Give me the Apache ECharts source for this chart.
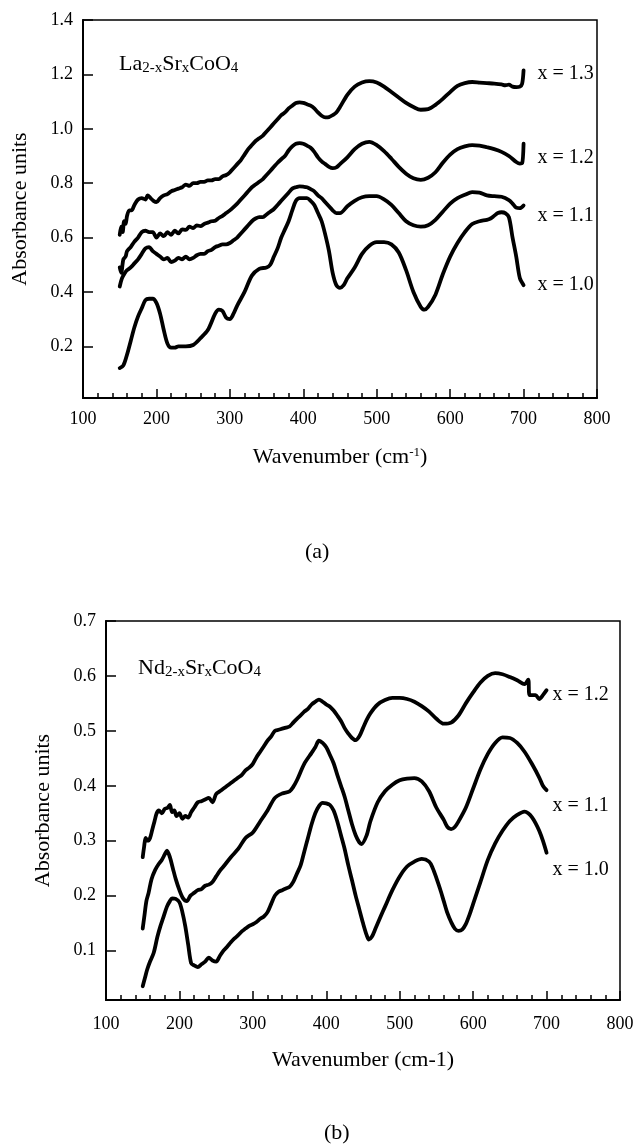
<!DOCTYPE html>
<html><head><meta charset="utf-8">
<script src="https://cdn.jsdelivr.net/npm/echarts@6/dist/echarts.min.js"></script>
<style>html,body{margin:0;padding:0;background:#fff}#c{width:638px;height:1144px}</style>
</head><body><div id="c"></div>
<script>
// ---------- Panel (a): La(2-x)Sr(x)CoO4 ----------
const laWnA10 = [150,155,160,165,170,175,180,185,190,195,200,205,210,215,220,225,230,240,250,260,270,280,285,290,295,300,305,310,320,330,340,350,355,360,365,370,375,380,385,390,395,400,405,410,415,420,425,430,435,440,445,450,455,460,470,480,490,500,510,520,530,540,550,560,565,570,580,590,600,610,620,630,640,650,655,660,665,670,675,680,685,690,695,700];
const laAbs10 = [0.12,0.13,0.17,0.22,0.27,0.31,0.34,0.37,0.375,0.375,0.36,0.32,0.26,0.21,0.195,0.195,0.2,0.2,0.205,0.23,0.26,0.32,0.335,0.33,0.305,0.3,0.32,0.35,0.4,0.46,0.485,0.49,0.5,0.53,0.56,0.6,0.63,0.66,0.7,0.735,0.745,0.745,0.745,0.735,0.72,0.69,0.66,0.61,0.55,0.47,0.425,0.415,0.425,0.45,0.49,0.54,0.57,0.583,0.583,0.575,0.545,0.48,0.4,0.345,0.335,0.345,0.39,0.465,0.53,0.58,0.62,0.65,0.66,0.665,0.67,0.68,0.69,0.693,0.69,0.675,0.6,0.53,0.45,0.425];

const laWnA11 = [150,153,157,160,165,170,175,180,185,190,195,200,205,210,215,220,225,230,235,240,245,250,255,260,265,270,275,280,285,290,295,300,305,310,315,320,325,330,335,340,345,350,355,360,365,370,375,380,385,390,395,400,405,410,415,420,425,430,435,440,445,450,460,470,480,490,500,510,520,530,540,550,560,570,580,590,600,610,620,630,640,650,660,670,680,685,690,695,700];
const laAbs11 = [0.42,0.45,0.47,0.48,0.49,0.505,0.52,0.54,0.56,0.565,0.55,0.54,0.53,0.52,0.525,0.51,0.515,0.525,0.52,0.53,0.52,0.525,0.535,0.54,0.54,0.55,0.555,0.565,0.57,0.575,0.575,0.58,0.59,0.6,0.615,0.63,0.645,0.66,0.67,0.675,0.675,0.685,0.695,0.705,0.72,0.735,0.75,0.765,0.78,0.785,0.788,0.787,0.785,0.778,0.77,0.755,0.745,0.73,0.715,0.7,0.69,0.69,0.715,0.735,0.748,0.752,0.752,0.74,0.72,0.69,0.66,0.645,0.64,0.645,0.665,0.695,0.725,0.745,0.757,0.767,0.765,0.755,0.752,0.75,0.738,0.725,0.71,0.708,0.718];

const laWnA12 = [150,152,155,158,160,165,170,175,180,185,190,195,200,205,210,215,220,225,230,235,240,245,250,255,260,265,270,275,280,285,290,295,300,305,310,315,320,325,330,335,340,345,350,355,360,365,370,375,380,385,390,395,400,405,410,415,420,425,430,435,440,445,450,460,470,480,490,500,510,520,530,540,550,560,570,580,590,600,610,620,630,640,650,660,670,680,690,695,698,700];
const laAbs12 = [0.49,0.47,0.52,0.53,0.55,0.565,0.585,0.6,0.62,0.625,0.62,0.62,0.6,0.615,0.605,0.62,0.61,0.625,0.615,0.63,0.628,0.64,0.635,0.645,0.642,0.65,0.655,0.66,0.662,0.672,0.68,0.69,0.7,0.712,0.725,0.74,0.755,0.77,0.785,0.795,0.805,0.815,0.83,0.845,0.86,0.875,0.888,0.9,0.92,0.935,0.945,0.947,0.945,0.938,0.93,0.915,0.895,0.88,0.87,0.86,0.855,0.858,0.87,0.895,0.925,0.945,0.952,0.94,0.918,0.89,0.86,0.835,0.818,0.812,0.82,0.84,0.875,0.905,0.925,0.935,0.94,0.938,0.932,0.925,0.915,0.9,0.878,0.872,0.873,0.945];

const laWnA13 = [150,152,154,156,158,160,163,166,170,175,180,185,188,192,196,200,205,210,215,220,225,230,235,240,245,250,255,260,265,270,275,280,285,290,295,300,305,310,315,320,325,330,335,340,345,350,355,360,365,370,375,380,385,390,395,400,405,410,415,420,425,430,435,440,445,450,460,470,480,490,500,510,520,530,540,550,560,570,580,590,600,610,620,630,640,650,660,670,675,680,685,690,695,698,700];
const laAbs13 = [0.61,0.64,0.62,0.66,0.65,0.68,0.7,0.7,0.72,0.74,0.745,0.74,0.755,0.745,0.735,0.73,0.745,0.755,0.76,0.77,0.775,0.78,0.785,0.795,0.79,0.8,0.8,0.805,0.805,0.81,0.81,0.815,0.815,0.825,0.83,0.84,0.855,0.87,0.885,0.905,0.925,0.94,0.955,0.965,0.975,0.99,1.005,1.02,1.035,1.05,1.06,1.075,1.085,1.095,1.097,1.095,1.09,1.085,1.075,1.06,1.048,1.042,1.043,1.05,1.06,1.08,1.125,1.155,1.17,1.175,1.17,1.155,1.135,1.115,1.095,1.08,1.07,1.072,1.088,1.11,1.135,1.158,1.168,1.172,1.17,1.168,1.166,1.163,1.16,1.162,1.155,1.153,1.155,1.165,1.215];

// ---------- Panel (b): Nd(2-x)Sr(x)CoO4 ----------
const ndWnB10 = [150,153,156,160,165,170,174,178,183,187,190,195,200,204,208,212,216,220,225,230,235,240,245,250,255,260,265,270,275,280,285,290,295,300,305,310,315,320,325,330,335,340,345,350,355,360,365,370,375,380,385,390,395,400,405,410,415,420,425,430,435,440,445,450,455,458,462,467,474,480,490,500,510,520,530,540,545,550,555,560,565,570,575,580,585,590,595,600,610,620,630,640,650,660,670,675,680,685,690,695,700];
const ndAbs10 = [0.035,0.05,0.065,0.08,0.096,0.125,0.144,0.16,0.18,0.19,0.195,0.194,0.188,0.17,0.144,0.11,0.077,0.073,0.07,0.075,0.08,0.087,0.082,0.08,0.09,0.1,0.107,0.115,0.122,0.128,0.135,0.14,0.145,0.148,0.152,0.158,0.162,0.17,0.185,0.2,0.207,0.21,0.213,0.216,0.225,0.24,0.255,0.28,0.305,0.33,0.35,0.363,0.369,0.368,0.365,0.355,0.335,0.31,0.285,0.255,0.228,0.2,0.175,0.15,0.128,0.12,0.125,0.14,0.162,0.18,0.21,0.235,0.253,0.262,0.267,0.262,0.25,0.232,0.212,0.19,0.168,0.152,0.14,0.136,0.138,0.148,0.165,0.185,0.225,0.265,0.295,0.318,0.336,0.347,0.353,0.35,0.343,0.332,0.318,0.3,0.278];

const ndWnB11 = [150,152,155,158,162,167,172,176,180,183,187,191,195,200,205,210,215,220,225,230,235,240,245,250,255,260,270,280,290,300,310,320,330,340,350,355,360,370,380,385,390,395,400,405,410,415,420,425,430,435,440,445,448,455,460,470,480,490,500,510,520,530,540,550,560,565,570,575,580,590,600,610,620,630,640,650,660,670,680,690,695,700];
const ndAbs11 = [0.14,0.16,0.19,0.205,0.23,0.247,0.258,0.265,0.275,0.282,0.27,0.25,0.23,0.21,0.195,0.19,0.2,0.205,0.21,0.212,0.218,0.22,0.225,0.235,0.245,0.253,0.27,0.285,0.305,0.315,0.335,0.355,0.378,0.386,0.39,0.398,0.41,0.44,0.46,0.47,0.482,0.478,0.47,0.456,0.441,0.42,0.4,0.38,0.355,0.33,0.31,0.297,0.294,0.31,0.335,0.37,0.39,0.402,0.41,0.413,0.414,0.408,0.39,0.36,0.338,0.325,0.321,0.325,0.335,0.36,0.395,0.43,0.458,0.478,0.488,0.487,0.478,0.462,0.44,0.415,0.4,0.392];

const ndWnB12 = [150,152,154,157,160,163,166,169,172,176,180,184,187,190,193,196,200,204,208,212,216,220,225,230,235,240,245,250,255,260,265,270,275,280,285,290,295,300,305,310,315,320,325,330,335,340,345,350,355,360,365,370,375,380,385,390,395,400,405,410,415,420,425,430,435,440,445,450,455,460,470,480,490,500,510,520,530,540,550,560,570,580,590,600,610,620,630,640,650,660,670,675,677,685,690,695,700];
const ndAbs12 = [0.27,0.29,0.305,0.3,0.305,0.32,0.335,0.35,0.355,0.35,0.358,0.36,0.365,0.352,0.355,0.345,0.35,0.34,0.345,0.342,0.352,0.36,0.37,0.372,0.375,0.378,0.37,0.385,0.39,0.395,0.4,0.405,0.41,0.415,0.42,0.428,0.433,0.44,0.452,0.462,0.472,0.482,0.49,0.5,0.502,0.504,0.506,0.508,0.515,0.522,0.528,0.535,0.54,0.548,0.553,0.557,0.553,0.548,0.544,0.537,0.528,0.518,0.505,0.495,0.487,0.483,0.49,0.505,0.52,0.532,0.548,0.556,0.56,0.56,0.558,0.553,0.545,0.535,0.522,0.513,0.515,0.528,0.55,0.57,0.588,0.6,0.605,0.603,0.598,0.592,0.585,0.593,0.565,0.565,0.558,0.565,0.574];

const curveNamesA = ['x = 1.0','x = 1.1','x = 1.2','x = 1.3'];
const curveNamesB = ['x = 1.0','x = 1.1','x = 1.2'];
const wnTicks = [100,200,300,400,500,600,700,800];

function pairs(xs, ys){ return xs.map((x,i)=>[x, ys[i]]); }

const FONT = "'Liberation Serif', 'Times New Roman', serif";
const BLACK = '#000';

function mkSeries(name, xs, ys, idx, off){
  return {
    name: name, type:'line', xAxisIndex: idx, yAxisIndex: idx,
    data: pairs(xs, ys), showSymbol:false, smooth:0.3, silent:true,
    lineStyle:{color:BLACK, width:3.8, cap:'round', join:'round'},
    endLabel:{show:true, formatter: name, distance:0, offset: off,
      color:BLACK, fontSize:20, fontFamily:FONT}
  };
}

function mkX(idx, gap, withSup, margin){
  return {
    type:'value', gridIndex: idx, min: wnTicks[0], max: wnTicks[wnTicks.length-1], interval:100,
    name: withSup ? 'Wavenumber (cm{sup|-1})' : 'Wavenumber (cm-1)',
    nameLocation:'middle', nameGap: gap,
    nameTextStyle:{color:BLACK, fontSize:22, fontFamily:FONT,
      rich:{sup:{fontSize:13, fontFamily:FONT, color:BLACK, verticalAlign:'top', padding:[0,0,9,0]}}},
    axisLine:{show:true, onZero:false, lineStyle:{color:BLACK, width:2}},
    axisTick:{show:true, inside:true, length:9, lineStyle:{color:BLACK, width:1.5}},
    minorTick:{show:true, splitNumber:5, length:5, lineStyle:{color:BLACK, width:1.5}},
    axisLabel:{color:BLACK, fontSize:18, fontFamily:FONT, margin:margin},
    splitLine:{show:false}
  };
}
function mkY(idx, min, max){
  return {
    type:'value', gridIndex: idx, min:min, max:max, splitNumber:7,
    name:'Absorbance units', nameLocation:'middle', nameRotate:90, nameGap:52,
    nameTextStyle:{color:BLACK, fontSize:22, fontFamily:FONT},
    axisLine:{show:true, onZero:false, lineStyle:{color:BLACK, width:2}},
    axisTick:{show:true, inside:true, length:10, lineStyle:{color:BLACK, width:1.5}},
    axisLabel:{color:BLACK, fontSize:18, fontFamily:FONT, margin:10,
      formatter: v => (Math.abs(v*10 - Math.round(v*10)) < 1e-6 ? v.toFixed(1) : '')},
    splitLine:{show:false}
  };
}

const chart = echarts.init(document.getElementById('c'), null, {renderer:'canvas'});
const richTitle = {
  n:{fontSize:22, fontFamily:FONT, color:BLACK, verticalAlign:'top', lineHeight:23},
  s:{fontSize:15, fontFamily:FONT, color:BLACK, verticalAlign:'bottom', lineHeight:15, padding:[11,0,0,0]}
};
chart.setOption({
  animation:false,
  backgroundColor:'#fff',
  grid:[
    {left:83, top:20, width:514, height:378, show:true, borderColor:BLACK, borderWidth:1.5, containLabel:false},
    {left:106, top:621, width:514, height:379, show:true, borderColor:BLACK, borderWidth:1.5, containLabel:false}
  ],
  xAxis:[mkX(0, 48, true, 12), mkX(1, 49, false, 15)],
  yAxis:[mkY(0, 0.01, 1.4), mkY(1, 0.01, 0.7)],
  series:[
    mkSeries(curveNamesA[0], laWnA10, laAbs10, 0, [14, 0]),
    mkSeries(curveNamesA[1], laWnA11, laAbs11, 0, [14, 10]),
    mkSeries(curveNamesA[2], laWnA12, laAbs12, 0, [14, 14]),
    mkSeries(curveNamesA[3], laWnA13, laAbs13, 0, [14, 3]),
    mkSeries(curveNamesB[0], ndWnB10, ndAbs10, 1, [6, 17]),
    mkSeries(curveNamesB[1], ndWnB11, ndAbs11, 1, [6, 16]),
    mkSeries(curveNamesB[2], ndWnB12, ndAbs12, 1, [6, 5])
  ],
  graphic:[
    {type:'text', left:119, top:50, style:{text:'{n|La}{s|2-x}{n|Sr}{s|x}{n|CoO}{s|4}', rich:richTitle}},
    {type:'text', left:138, top:654, style:{text:'{n|Nd}{s|2-x}{n|Sr}{s|x}{n|CoO}{s|4}', rich:richTitle}},
    {type:'text', left:305, top:541, style:{text:'(a)', fontSize:22, fontFamily:FONT, fill:BLACK}},
    {type:'text', left:324, top:1122, style:{text:'(b)', fontSize:22, fontFamily:FONT, fill:BLACK}}
  ]
});
</script>
</body></html>
